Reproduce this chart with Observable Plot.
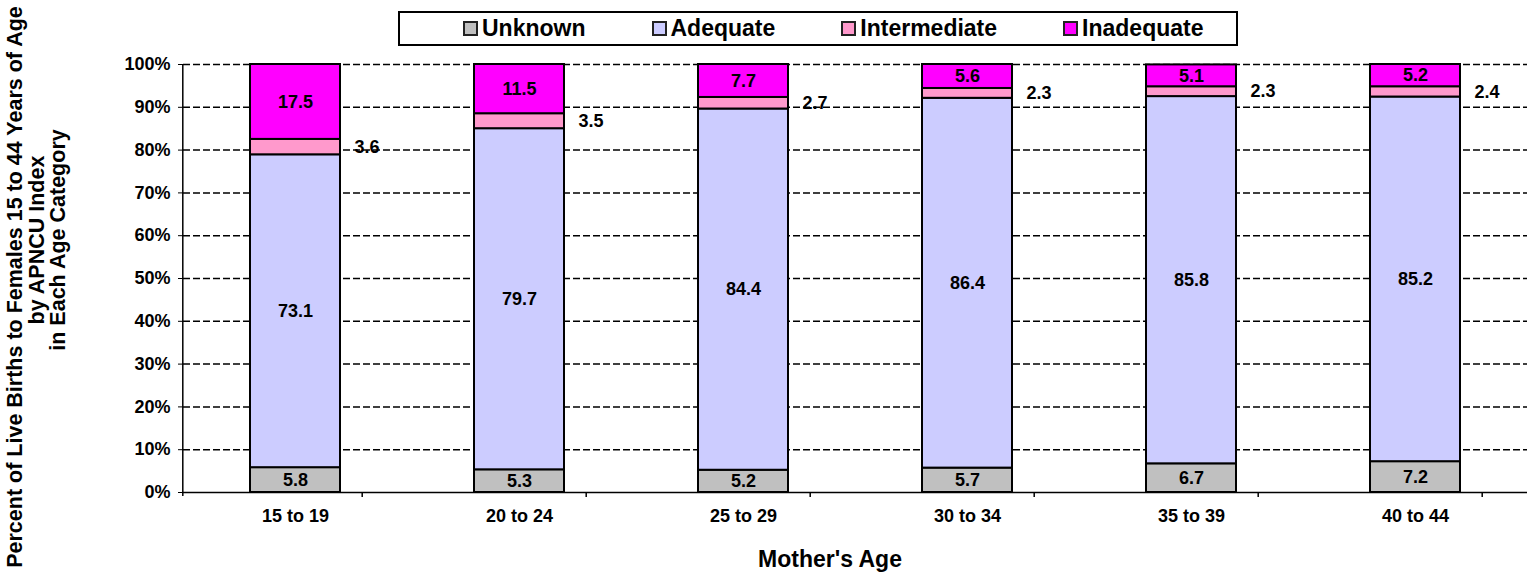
<!DOCTYPE html>
<html>
<head>
<meta charset="utf-8">
<script src="https://cdn.jsdelivr.net/npm/d3@7"></script>
<script src="https://cdn.jsdelivr.net/npm/@observablehq/plot@0.6"></script>
<style>
  html, body { margin: 0; padding: 0; background: #fff; }
  #wrap { position: relative; width: 1531px; height: 574px; overflow: hidden; font-family: "Liberation Sans", Arial, sans-serif; }
  #wrap svg { position: absolute; left: 0; top: 0; }
  #legend { position: absolute; left: 398px; top: 11px; width: 840px; height: 35px; border: 2px solid #000;
    display: flex; align-items: center; padding-left: 63px; box-sizing: border-box; background: #fff;
    font-weight: bold; font-size: 23px; color: #000; }
  #legend .item { display: flex; align-items: center; margin-right: 66px; }
  #legend .sw { width: 11px; height: 11px; border: 2px solid #222; margin-right: 4px; }
</style>
</head>
<body>
<div id="wrap"></div>
<script>
const categories = ["15 to 19", "20 to 24", "25 to 29", "30 to 34", "35 to 39", "40 to 44"];
const seriesNames = ["Unknown", "Adequate", "Intermediate", "Inadequate"];
const unknown = [5.8, 5.3, 5.2, 5.7, 6.7, 7.2];
const adequate = [73.1, 79.7, 84.4, 86.4, 85.8, 85.2];
const intermediate = [3.6, 3.5, 2.7, 2.3, 2.3, 2.4];
const inadequate = [17.5, 11.5, 7.7, 5.6, 5.1, 5.2];
const seriesColors = ["#C0C0C0", "#CCCCFF", "#FF99CC", "#FF00FF"];
const yTicks = [0, 10, 20, 30, 40, 50, 60, 70, 80, 90, 100];
const yTitleLines = ["Percent of Live Births to Females 15 to 44 Years of Age", "by APNCU Index", "in Each Age Category"];
const xTitle = "Mother's Age";

const seriesValues = [unknown, adequate, intermediate, inadequate];
const rows = [];
categories.forEach((c, i) => {
  seriesNames.forEach((s, j) => rows.push({cat: c, series: s, value: seriesValues[j][i]}));
});

const chart = Plot.plot({
  width: 1531, height: 574,
  marginTop: 64, marginBottom: 82, marginLeft: 183, marginRight: 4,
  style: {fontFamily: "'Liberation Sans', Arial, sans-serif", fontWeight: "bold", fontSize: "18px", color: "#000", background: "transparent"},
  x: {domain: categories, paddingInner: 0.6, paddingOuter: 0.3, label: null, tickSize: 0, tickPadding: 17},
  y: {domain: [0, 100], ticks: yTicks, tickFormat: d => d + "%", label: null, tickSize: 5, tickPadding: 8},
  color: {domain: seriesNames, range: seriesColors},
  marks: [
    Plot.gridY(yTicks.filter(d => d > 0), {stroke: "#000", strokeOpacity: 1, strokeWidth: 1.5, strokeDasharray: "7,3"}),
    Plot.barY(rows, {x: "cat", y: "value", z: "series", fill: "series", order: seriesNames, stroke: "#000", strokeWidth: 2}),
    Plot.text(rows, Plot.stackY({x: "cat", y: "value", z: "series", order: seriesNames,
      text: d => d.series === "Intermediate" ? "" : d.value.toFixed(1), fill: "#000", fontSize: 18, fontWeight: "bold"})),
    Plot.text(rows, Plot.stackY({x: "cat", y: "value", z: "series", order: seriesNames,
      text: d => d.series === "Intermediate" ? d.value.toFixed(1) : "", textAnchor: "start", dx: 59, fill: "#000", fontSize: 18, fontWeight: "bold"})),
    Plot.ruleY([0], {stroke: "#000", strokeWidth: 1.5})
  ]
});

const wrap = document.getElementById("wrap");
wrap.appendChild(chart);

// axis lines & category boundary ticks derived from scales
const xs = chart.scale("x"), ys = chart.scale("y");
const svg = d3.select(chart);
const y0 = ys.apply(0), y100 = ys.apply(100);
const left = xs.apply(categories[0]) - xs.step * xs.paddingOuter;
svg.append("line").attr("x1", left).attr("x2", left).attr("y1", y100).attr("y2", y0 + 4)
  .attr("stroke", "#000").attr("stroke-width", 1.5);
categories.forEach(c => {
  const bx = xs.apply(c) + xs.bandwidth / 2 + xs.step * xs.paddingInner / 2;
  svg.append("line").attr("x1", bx).attr("x2", bx).attr("y1", y0).attr("y2", y0 + 5)
    .attr("stroke", "#000").attr("stroke-width", 1.5);
});

// y title (three centered lines, rotated)
const lineX = [14, 36, 57];
const lineY = [287, 240, 240];
yTitleLines.forEach((t, i) => {
  svg.append("text").text(t)
    .attr("transform", `translate(${lineX[i] + 8},${lineY[i]}) rotate(-90)`)
    .attr("text-anchor", "middle")
    .attr("font-size", 21.5).attr("font-weight", "bold").attr("fill", "#000");
});
// x title
svg.append("text").text(xTitle)
  .attr("x", 830).attr("y", 567).attr("text-anchor", "middle")
  .attr("font-size", 23).attr("font-weight", "bold").attr("fill", "#000");

// legend
const legend = document.createElement("div");
legend.id = "legend";
seriesNames.forEach((s, i) => {
  const it = document.createElement("div"); it.className = "item";
  const sw = document.createElement("div"); sw.className = "sw"; sw.style.background = seriesColors[i];
  const tx = document.createElement("span"); tx.textContent = s;
  it.appendChild(sw); it.appendChild(tx); legend.appendChild(it);
});
wrap.appendChild(legend);
</script>
</body>
</html>
